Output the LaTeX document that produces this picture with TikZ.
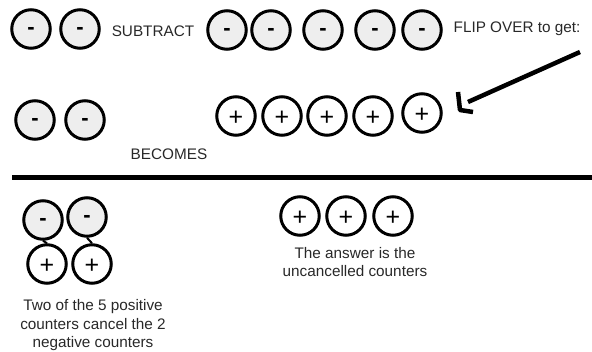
\documentclass[tikz,border=0pt]{standalone}
\usepackage{fontspec}
\setmainfont{Liberation Sans}
\definecolor{minusfill}{RGB}{238,238,238}
\definecolor{txt}{RGB}{40,40,40}
\begin{document}
\begin{tikzpicture}[x=1pt,y=-1pt,
  counter/.style={circle,draw=black,line width=3pt,minimum size=38.5pt,inner sep=0pt},
  negcounter/.style={counter,fill=minusfill,font=\fontsize{22}{22}\selectfont\bfseries,text height=11.9pt,text depth=0pt},
  poscounter/.style={counter,fill=white,font=\fontsize{25}{25}\selectfont,text height=19.5pt,text depth=0pt},
  lbl/.style={font=\fontsize{15.3}{18.5}\selectfont,text=txt,anchor=base,inner sep=0pt},
  para/.style={lbl,align=center},
  link/.style={line width=2pt},
  arrowline/.style={line width=4.5pt,line join=round}
]
\useasboundingbox (0,0) rectangle (592,352);
% top row
\node[negcounter] (a1) at (31,29) {-};
\node[negcounter] (a2) at (80,29) {-};
\node[lbl] (sub) at (153,37) {SUBTRACT};
\node[negcounter] (b1) at (227,30) {-};
\node[negcounter] (b2) at (271,30) {-};
\node[negcounter] (b3) at (323,30) {-};
\node[negcounter] (b4) at (375,30) {-};
\node[negcounter] (b5) at (422,30) {-};
\node[lbl] (flip) at (517,33) {FLIP OVER to get:};
% arrow
\coordinate (s0) at (580,52);
\coordinate (s1) at (468,102);
\coordinate (h0) at (458,92);
\coordinate (h1) at (460,110);
\coordinate (h2) at (473,112);
\draw[arrowline] (s0) -- (s1);
\draw[arrowline] (h0) -- (h1) -- (h2);
% second row
\node[negcounter] (c1) at (35,120) {-};
\node[negcounter] (c2) at (85,120) {-};
\node[lbl] (bec) at (169,160) {BECOMES};
\node[poscounter] (d1) at (236,116) {+};
\node[poscounter] (d2) at (282,116) {+};
\node[poscounter] (d3) at (327,116) {+};
\node[poscounter] (d4) at (373,116) {+};
\node[poscounter] (d5) at (422,113) {+};
% divider
\coordinate (l0) at (12,178);
\coordinate (l1) at (592,178);
\draw[line width=5pt] (l0) -- (l1);
% bottom left
\node[negcounter] (e1) at (43,220) {-};
\node[negcounter] (e2) at (87,217) {-};
\node[poscounter] (f1) at (47,264) {+};
\node[poscounter] (f2) at (92,264) {+};
\draw[link] (e1.south) -- (f1.north);
\draw[link] (e2.south) -- (f2.north);
\node[para] (t1) at (93,348) {Two of the 5 positive\\counters cancel the 2\\negative counters};
% bottom right
\node[poscounter] (g1) at (300,216) {+};
\node[poscounter] (g2) at (346,216) {+};
\node[poscounter] (g3) at (393,216) {+};
\node[para] (t2) at (355,277) {The answer is the\\uncancelled counters};
\end{tikzpicture}
\end{document}
